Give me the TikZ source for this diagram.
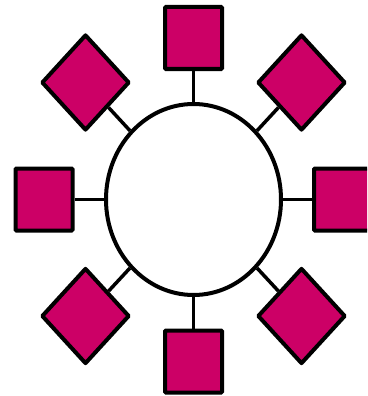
\documentclass[tikz,border=0pt]{standalone}
\usetikzlibrary{shapes.geometric}
\definecolor{mag}{RGB}{204,0,102}
\begin{document}
\begin{tikzpicture}[x=1pt,y=-1pt,
  hub/.style={ellipse, draw, line width=4pt, fill=white, minimum width=175pt, minimum height=191pt, inner sep=0pt},
  sq/.style={rectangle, draw, line width=4pt, fill=mag, minimum width=57pt, minimum height=62pt, inner sep=0pt, rounded corners=1pt},
  dia/.style={diamond, draw, line width=4pt, fill=mag, minimum width=88pt, minimum height=96pt, inner sep=0pt, line join=round},
  link/.style={line width=3.5pt}]
\useasboundingbox (0,0) rectangle (367,396);
\clip (0,0) rectangle (367,396);
\node[hub] (hub) at (193.5,199.5) {};
\node[sq] (n) at (193.5,38) {};
\node[sq] (s) at (193.5,361.5) {};
\node[sq] (w) at (44,199.5) {};
\node[sq] (e) at (342.5,199.5) {};
\node[dia] (nw) at (85.5,82.5) {};
\node[dia] (ne) at (301.5,82.5) {};
\node[dia] (sw) at (85.5,316) {};
\node[dia] (se) at (301.5,316) {};
\foreach \t in {n,s,w,e,nw,ne,sw,se} \draw[link] (hub) -- (\t);
\end{tikzpicture}
\end{document}
